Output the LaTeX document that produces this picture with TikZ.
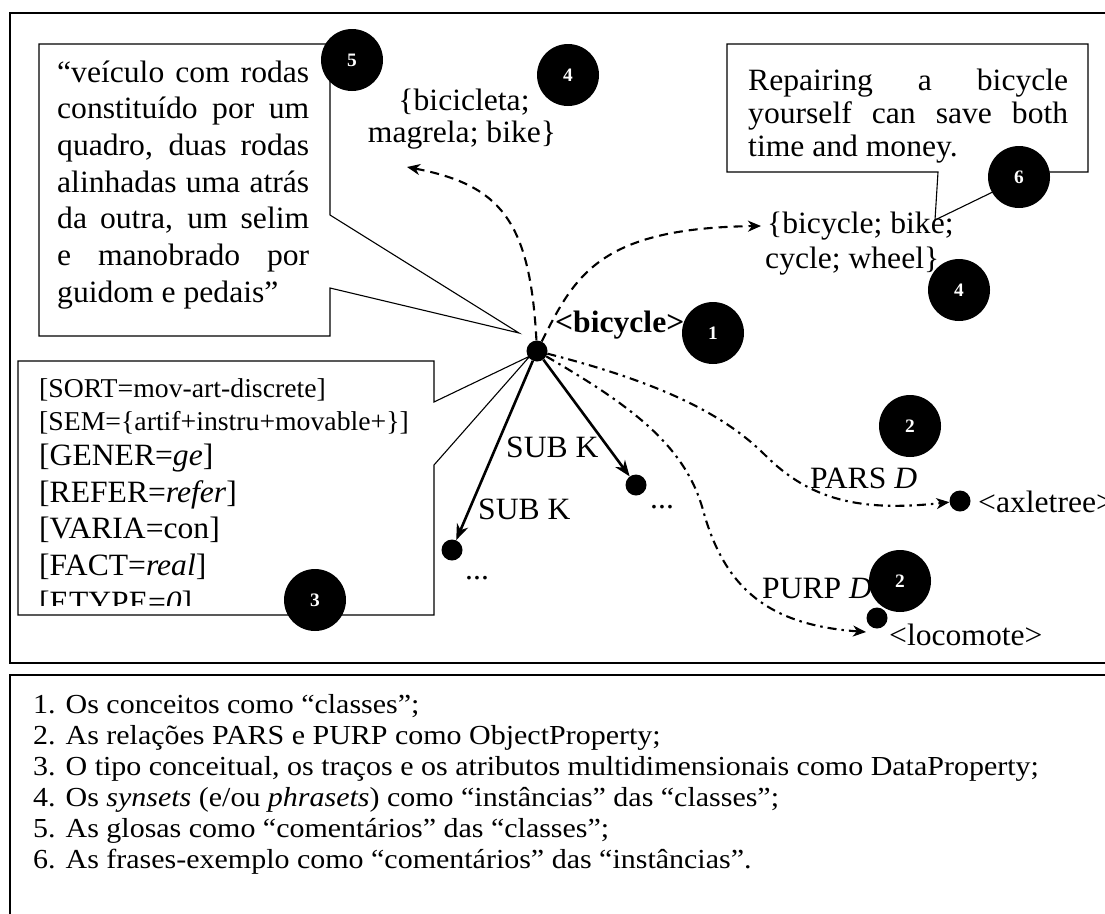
\documentclass[tikz,border=0pt]{standalone}
\usepackage{fontspec}
\setmainfont{Liberation Serif}[FakeStretch=1.02]
\newfontfamily\legendfont{Liberation Serif}[FakeStretch=1.09]
\usetikzlibrary{arrows.meta}
\newcommand\dsize{\fontsize{31}{36}\selectfont}
\newcommand\ssize{\fontsize{27.2}{32}\selectfont}
\newcommand\lsize{\legendfont\fontsize{27.5}{31}\selectfont}
\begin{document}
\begin{tikzpicture}[x=1pt,y=-1pt,
  frame/.style={draw=black, line width=1.8pt},
  callout/.style={draw=black, line width=1.1pt, line join=miter},
  num/.style={circle, fill=black, minimum size=62pt, inner sep=0pt, text=white, font=\fontsize{19}{19}\selectfont\bfseries},
  blob/.style={circle, fill=black, minimum size=21pt, inner sep=0pt},
  lbl/.style={inner sep=0pt, anchor=base west, font=\dsize},
  slbl/.style={inner sep=0pt, anchor=base west, font=\ssize},
  leg/.style={inner sep=0pt, anchor=base west, font=\lsize},
  synarrow/.style={line width=2.1pt, dash pattern=on 9pt off 6pt, -{Stealth[length=13pt,width=11pt,inset=4pt]}},
  relarrow/.style={line width=2.1pt, dash pattern=on 9pt off 5pt on 2.5pt off 5pt, -{Stealth[length=13pt,width=11pt,inset=4pt]}},
  subarrow/.style={line width=2.6pt, -{Stealth[length=16pt,width=12pt,inset=5pt]}}
]
\useasboundingbox (0,0) rectangle (1105,913);
\fill[white] (0,0) rectangle (1105,913);

% frames
\draw[frame] (1120,13) -- (10,13) -- (10,663) -- (1120,663);
\draw[frame] (1120,675) -- (10,675) -- (10,930);

% callouts
\coordinate (t5) at (519,333);
\coordinate (t3) at (530,356);
\coordinate (t6) at (935,220);
\draw[callout] (39,44) -- (330,44) -- (330,215) -- (t5) -- (330,288) -- (330,336) -- (39,336) -- cycle;
\draw[callout] (18,361) -- (434,361) -- (434,402) -- (t3) -- (434,465) -- (434,615) -- (18,615) -- cycle;
\draw[callout] (727,44) -- (1088,44) -- (1088,172) -- (1034,172) -- (t6) -- (938,172) -- (727,172) -- cycle;

% gloss text
\node[lbl] (g1) at (57,82) {\makebox[252pt][s]{“veículo com rodas}};
\node[lbl] (g2) at (57,118.7) {\makebox[252pt][s]{constituído por um}};
\node[lbl] (g3) at (57,155.3) {\makebox[252pt][s]{quadro, duas rodas}};
\node[lbl] (g4) at (57,192) {\makebox[252pt][s]{alinhadas uma atrás}};
\node[lbl] (g5) at (57,228.7) {\makebox[252pt][s]{da outra, um selim}};
\node[lbl] (g6) at (57,265.3) {\makebox[252pt][s]{e manobrado por}};
\node[lbl] (g7) at (57,302) {guidom e pedais”};

% example sentence
\node[lbl] (e1) at (748,90) {\makebox[320pt][s]{Repairing a bicycle}};
\node[lbl] (e2) at (748,123) {\makebox[320pt][s]{yourself can save both}};
\node[lbl] (e3) at (748,156) {time and money.};

% features
\begin{scope}
\clip (18,361) rectangle (434,605);
\node[slbl] (f1) at (39,397) {[SORT=mov-art-discrete]};
\node[slbl] (f2) at (39,430) {[SEM=\{artif+instru+movable+\}]};
\node[lbl] (f3) at (39,465) {[GENER=\textit{ge}]};
\node[lbl] (f4) at (39,502) {[REFER=\textit{refer}]};
\node[lbl] (f5) at (39,538) {[VARIA=con]};
\node[lbl] (f6) at (39,575) {[FACT=\textit{real}]};
\node[lbl] (f7) at (39,612) {[ETYPE=\textit{0}]};
\end{scope}

% synsets
\node[lbl, anchor=base] (s1a) at (464,110) {\{bicicleta;};
\node[lbl, anchor=base] (s1b) at (462,142) {magrela; bike\}};
\node[lbl] (s2a) at (767,233) {\{bicycle; bike;};
\node[lbl] (s2b) at (765,268) {cycle; wheel\}};
\coordinate (s1end) at (407,167);
\coordinate (s2end) at (761,226);

% concept and relations
\node[blob] (bic) at (537,351) {};
\node[lbl, font=\dsize\bfseries] (bicl) at (555,332) {<bicycle>};
\node[blob] (d1) at (636,485) {};
\node[blob] (d2) at (452,550) {};
\node[blob] (dax) at (960,501) {};
\node[blob] (dloc) at (877,618) {};
\coordinate (locend) at (866,632);

\node[lbl] (k1) at (506,457) {SUB K};
\node[lbl] (k2) at (478,519) {SUB K};
\node[lbl] (m1) at (650,508) {...};
\node[lbl] (m2) at (465,579) {...};
\node[lbl] (pars) at (810,488) {PARS \textit{D}};
\node[lbl] (axl) at (978,512) {<axletree>};
\node[lbl] (purp) at (762,598) {PURP \textit{D}};
\node[lbl] (loc) at (889,645) {<locomote>};

% connectors
\draw[synarrow] (bic) .. controls (530,220) and (500,185) .. (s1end);
\draw[synarrow] (bic) .. controls (575,275) and (600,228) .. (s2end);
\draw[subarrow] (bic) -- (d1);
\draw[subarrow] (bic) -- (d2);
\draw[relarrow] (bic) .. controls (650,380) and (720,410) .. (765,455) .. controls (810,500) and (860,512) .. (dax);
\draw[relarrow] (bic) .. controls (630,405) and (685,445) .. (703,510) .. controls (725,590) and (770,625) .. (locend);

% numbered markers
\node[num] (n5) at (352,60) {5};
\node[num] (n4a) at (568,75) {4};
\node[num] (n6) at (1019,177) {6};
\node[num] (n4b) at (959,290) {4};
\node[num] (n1) at (713,333) {1};
\node[num] (n2a) at (910,426) {2};
\node[num] (n2b) at (900,581) {2};
\node[num] (n3) at (315,600) {3};

% legend
\node[leg] (l1) at (33,713) {1. Os conceitos como “classes”;};
\node[leg] (l2) at (33,744) {2. As relações PARS e PURP como ObjectProperty;};
\node[leg] (l3) at (33,775) {3. O tipo conceitual, os traços e os atributos multidimensionais como DataProperty;};
\node[leg] (l4) at (33,806) {4. Os \textit{synsets} (e/ou \textit{phrasets}) como “instâncias” das “classes”;};
\node[leg] (l5) at (33,837) {5. As glosas como “comentários” das “classes”;};
\node[leg] (l6) at (33,868) {6. As frases-exemplo como “comentários” das “instâncias”.};
\end{tikzpicture}
\end{document}
